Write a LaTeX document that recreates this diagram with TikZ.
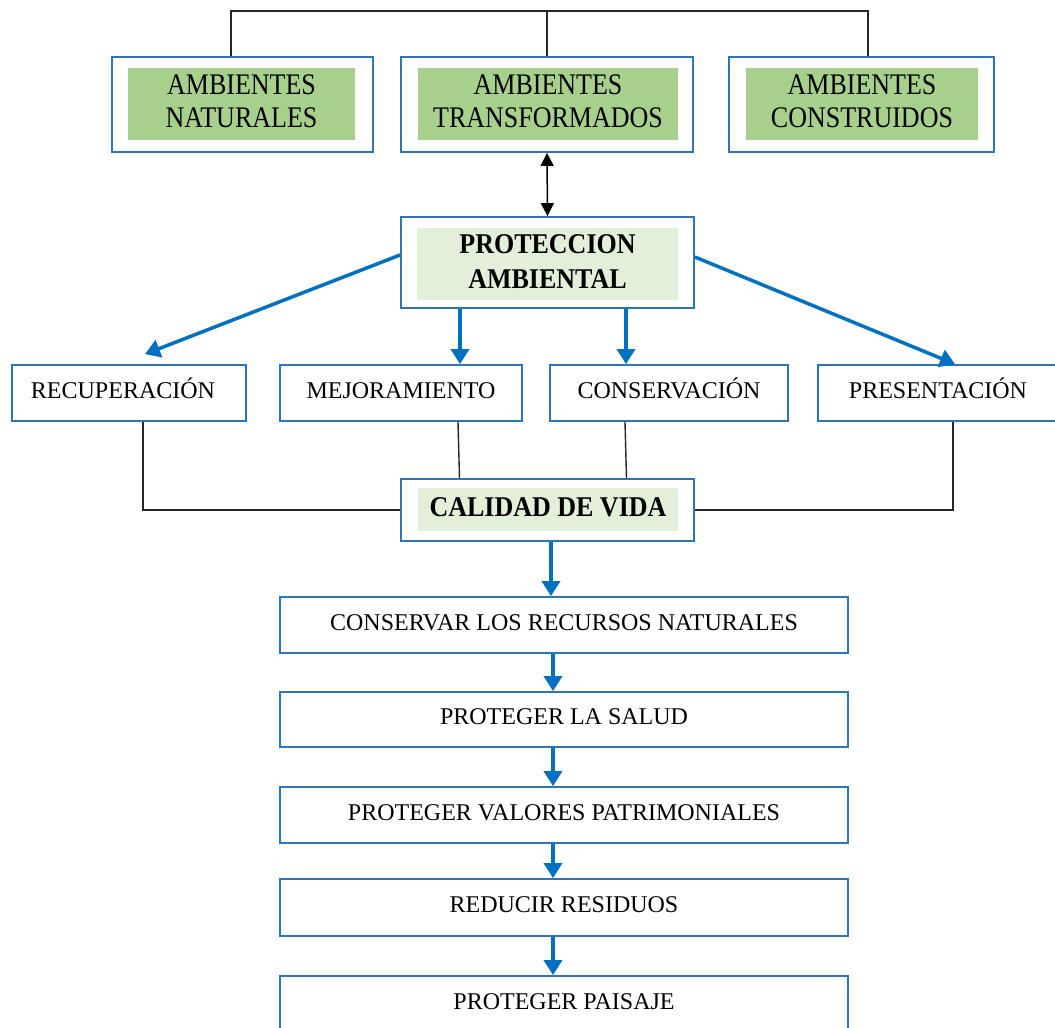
\documentclass[tikz,border=0pt]{standalone}
\usepackage{fontspec}
\setmainfont{Liberation Serif}
\usepackage{graphicx}
\usetikzlibrary{arrows.meta}
\definecolor{bord}{RGB}{46,117,182}
\definecolor{arr}{RGB}{0,112,192}
\definecolor{gdark}{RGB}{168,208,141}
\definecolor{glight}{RGB}{226,239,217}
\newcommand\vtxt[2]{\scalebox{1}[#1]{\begin{tabular}{@{}c@{}}#2\end{tabular}}}
\begin{document}
\begin{tikzpicture}[x=1pt,y=-1pt,
  outer/.style={draw=bord,line width=1.8pt,fill=white,inner sep=0pt},
  gfill/.style={fill=gdark,inner sep=0pt,font=\fontsize{26}{28.7}\selectfont},
  lfill/.style={fill=glight,inner sep=0pt,font=\fontsize{26}{32}\selectfont\bfseries},
  plain/.style={outer,font=\fontsize{24}{28}\selectfont,text height=16pt,text depth=6pt},
  conn/.style={draw=black!85,line width=1.4pt},
  barrow/.style={draw=arr,line width=3.5pt,-{Triangle[length=15pt,width=18pt]}},
  dbl/.style={draw=black,line width=1.5pt,{Triangle[length=13pt,width=13pt]}-{Triangle[length=13pt,width=13pt]}}]
\useasboundingbox (0,0) rectangle (1055,1028);
\fill[white] (0,0) rectangle (1055,1028);
\clip (0,0) rectangle (1055,1028);

% top row
\node[outer,minimum width=261pt,minimum height=95pt] (an) at (242.5,104.5) {};
\node[gfill,minimum width=227pt,minimum height=72pt] (ang) at (241.5,104) {\vtxt{1.15}{AMBIENTES\\NATURALES}};
\node[outer,minimum width=292pt,minimum height=95pt] (at) at (547,104.5) {};
\node[gfill,minimum width=260pt,minimum height=72pt] (atg) at (548,104) {\vtxt{1.15}{AMBIENTES\\TRANSFORMADOS}};
\node[outer,minimum width=265pt,minimum height=95pt] (ac) at (861.5,104.5) {};
\node[gfill,minimum width=232pt,minimum height=72pt] (acg) at (862,104) {\vtxt{1.15}{AMBIENTES\\CONSTRUIDOS}};

% proteccion
\node[outer,minimum width=293pt,minimum height=91pt] (pa) at (547.5,262.5) {};
\node[lfill,minimum width=261pt,minimum height=72pt] (pag) at (547.5,264) {\vtxt{1.1}{PROTECCION\\AMBIENTAL}};

% second row
\node[plain,minimum width=234pt,minimum height=56pt] (rec) at (129,393) {RECUPERACIÓN\hspace*{12pt}};
\node[plain,minimum width=242pt,minimum height=56pt] (mej) at (401,393) {MEJORAMIENTO};
\node[plain,minimum width=238pt,minimum height=56pt] (con) at (669,393) {CONSERVACIÓN};
\node[plain,minimum width=240pt,minimum height=56pt] (pre) at (938,393) {PRESENTACIÓN};

% calidad
\node[outer,minimum width=293pt,minimum height=62pt] (cal) at (547.5,510) {};
\node[lfill,minimum width=260pt,minimum height=43pt] (calg) at (548,509.5) {\vtxt{1.1}{CALIDAD DE VIDA}};

% bottom column
\node[plain,minimum width=568pt,minimum height=56pt] (b1) at (564,625) {CONSERVAR LOS RECURSOS NATURALES};
\node[plain,minimum width=568pt,minimum height=55pt] (b2) at (564,719.5) {PROTEGER LA SALUD};
\node[plain,minimum width=568pt,minimum height=56pt] (b3) at (564,815) {PROTEGER VALORES PATRIMONIALES};
\node[plain,minimum width=568pt,minimum height=57pt] (b4) at (564,907.5) {REDUCIR RESIDUOS};
\node[plain,minimum width=568pt,minimum height=56pt] (b5) at (564,1004) {PROTEGER PAISAJE};

% top connectors
\coordinate (t1) at (231,11);
\coordinate (t3) at (868,11);
\draw[conn] (an.north -| t1) -- (t1) -- (t3) -- (ac.north -| t3);
\draw[conn] (at.north) -- (at.north |- t1);
\draw[dbl] (at.south) -- (pa.north);

% blue arrows from proteccion
\draw[barrow] ([yshift=7.5pt]pa.west) -- ([xshift=16pt,yshift=10pt]rec.north);
\draw[barrow] ([xshift=-87.5pt]pa.south) -- ([xshift=59pt]mej.north);
\draw[barrow] ([xshift=78.5pt]pa.south) -- ([xshift=-43pt]con.north);
\draw[barrow] ([yshift=5.5pt]pa.east) -- ([xshift=17pt]pre.north);

% lines to calidad
\draw[conn] ([xshift=14pt]rec.south) |- (cal.west);
\draw[conn] ([xshift=57pt]mej.south) -- ([xshift=-88pt]cal.north);
\draw[conn] ([xshift=-44pt]con.south) -- ([xshift=79pt]cal.north);
\draw[conn] ([xshift=15pt]pre.south) |- (cal.east);

% bottom arrows
\draw[barrow] ([xshift=3.5pt]cal.south) -- ([xshift=-13pt]b1.north);
\draw[barrow] ([xshift=-11pt]b1.south) -- ([xshift=-11pt]b2.north);
\draw[barrow] ([xshift=-11pt]b2.south) -- ([xshift=-11pt]b3.north);
\draw[barrow] ([xshift=-11pt]b3.south) -- ([xshift=-11pt]b4.north);
\draw[barrow] ([xshift=-11pt]b4.south) -- ([xshift=-11pt]b5.north);
\end{tikzpicture}
\end{document}
